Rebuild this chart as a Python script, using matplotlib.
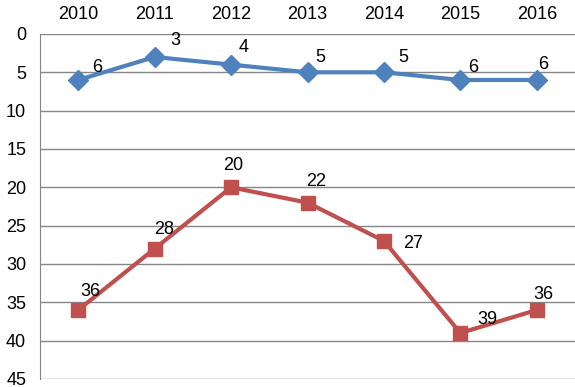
import numpy as np
import matplotlib.pyplot as plt

years = ['2010', '2011', '2012', '2013', '2014', '2015', '2016']
blue_vals = [6, 3, 4, 5, 5, 6, 6]
red_vals = [36, 28, 20, 22, 27, 39, 36]

# label offsets in points (dx, dy)
blue_off = [(14, 9), (15, 12), (9, 12), (9.5, 11), (14, 11), (9.5, 9), (4.5, 11)]
red_off = [(9, 13), (6.5, 14), (1.5, 16), (6, 15), (21, -1.5), (19.5, 9.5), (4.5, 11)]

plt.rcParams['font.family'] = ['Liberation Sans', 'DejaVu Sans']

fig = plt.figure(figsize=(5.75, 3.87), dpi=100)
ax = fig.add_axes([0.0696, 0.0207, 0.9304, 0.8915])

x = np.arange(len(years))
ax.plot(x, blue_vals, color='#4F81BD', lw=3, marker='D', ms=10.5, zorder=3)
ax.plot(x, red_vals, color='#C0504D', lw=3, marker='s', ms=10, zorder=3)

for xi, v, off in zip(x, blue_vals, blue_off):
    ax.annotate(str(v), (xi, v), xytext=off, textcoords='offset points',
                ha='center', va='center', fontsize=13)
for xi, v, off in zip(x, red_vals, red_off):
    ax.annotate(str(v), (xi, v), xytext=off, textcoords='offset points',
                ha='center', va='center', fontsize=13)

ax.set_xlim(-0.5, len(years) - 0.5)
ax.set_ylim(45, 0)
ax.set_yticks(range(0, 46, 5))
ax.set_xticks(x)
ax.set_xticklabels(years)
ax.xaxis.tick_top()
ax.tick_params(axis='both', length=0, labelsize=13)
ax.tick_params(axis='x', pad=8)
ax.tick_params(axis='y', pad=10)
ax.grid(axis='y', color='#868686', lw=1)
ax.set_axisbelow(True)
for s in ['top', 'right', 'bottom']:
    ax.spines[s].set_visible(False)
ax.spines['left'].set_color('#868686')

fig.savefig('out.png', dpi=100)
